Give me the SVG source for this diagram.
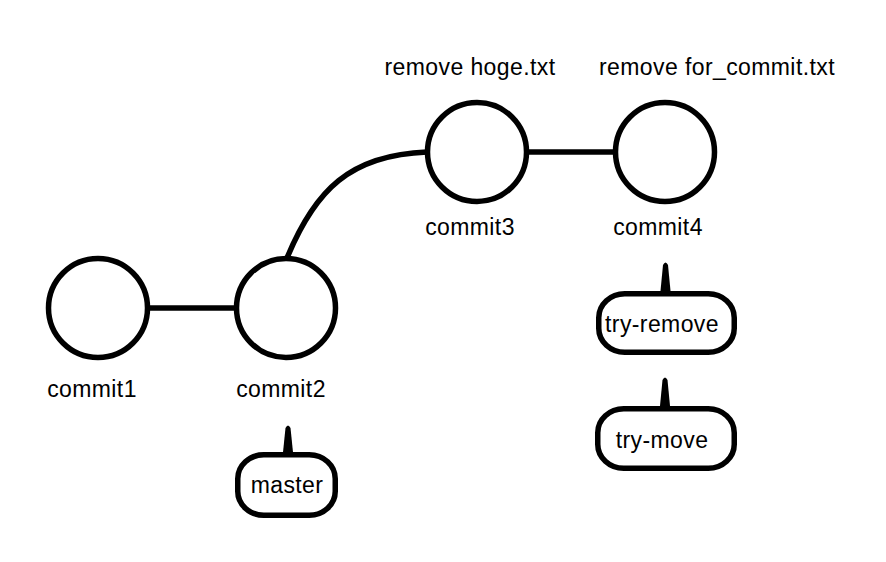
<svg xmlns="http://www.w3.org/2000/svg" width="886" height="562" viewBox="0 0 886 562">
<style>
.c{fill:#fff;stroke:#000;stroke-width:5.5}
.e{fill:none;stroke:#000;stroke-width:5.5}
.b{fill:#fff;stroke:#000;stroke-width:5.5}
.tail{fill:#000;stroke:none}
text{font-family:"Liberation Sans",Arial,sans-serif;font-size:23px;letter-spacing:0.4px;fill:#000;text-anchor:middle}
</style>
<rect width="886" height="562" fill="#fff"/>
<g id="connectors">
<line class="e" x1="148" y1="308" x2="237" y2="308"/>
<line class="e" x1="526" y1="152" x2="616" y2="152"/>
<path class="e" d="M287,258 C315,190 350,155 427,152"/>
</g>
<g id="commit1"><circle class="c" cx="98" cy="308" r="49.5"/><text x="92" y="397">commit1</text></g>
<g id="commit2"><circle class="c" cx="286" cy="308" r="49.5"/><text x="281" y="397">commit2</text></g>
<g id="commit3"><circle class="c" cx="477" cy="152" r="49.5"/><text x="470" y="235">commit3</text><text x="470" y="75">remove hoge.txt</text></g>
<g id="commit4"><circle class="c" cx="665" cy="152" r="49.5"/><text x="658" y="235">commit4</text><text x="717" y="75">remove for_commit.txt</text></g>
<g id="master">
<rect class="b" x="237.75" y="454.75" width="97.5" height="60.5" rx="26" ry="24"/>
<path class="tail" d="M282.5,457 L285.5,428 Q288,423 290.5,428 L293.5,457 Z"/>
<text x="287" y="493">master</text>
</g>
<g id="try-remove">
<rect class="b" x="598.75" y="293.75" width="135.5" height="58.5" rx="26" ry="24"/>
<path class="tail" d="M660,296 L663,265 Q665.5,260 668,265 L671,296 Z"/>
<text x="662" y="332">try-remove</text>
</g>
<g id="try-move">
<rect class="b" x="597.75" y="408.75" width="136.5" height="59.5" rx="26" ry="24"/>
<path class="tail" d="M659.5,411 L662.5,380 Q665,375 667.5,380 L670.5,411 Z"/>
<text x="662" y="448">try-move</text>
</g>
</svg>
